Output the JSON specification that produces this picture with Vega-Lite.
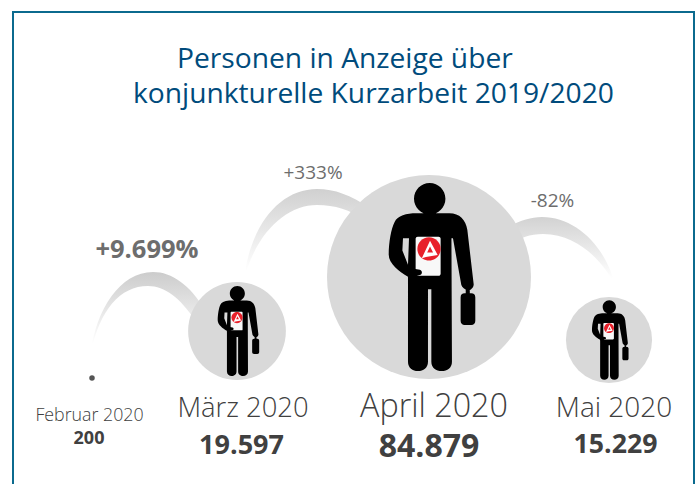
{
  "$schema": "https://vega.github.io/schema/vega-lite/v6.json",
  "width": 681,
  "height": 474,
  "padding": {"left": 13, "top": 12, "right": 1, "bottom": 0},
  "autosize": {"type": "none"},
  "background": "#ffffff",
  "view": {"stroke": "#0b6a8e", "strokeWidth": 2, "fill": "#ffffff"},
  "datasets": {
    "monate": [
      {"monat": "Februar 2020", "nr": 2, "personen": 200, "anzeige": "200", "veraenderung": null},
      {"monat": "März 2020", "nr": 3, "personen": 19597, "anzeige": "19.597", "veraenderung": "+9.699%"},
      {"monat": "April 2020", "nr": 4, "personen": 84879, "anzeige": "84.879", "veraenderung": "+333%"},
      {"monat": "Mai 2020", "nr": 5, "personen": 15229, "anzeige": "15.229", "veraenderung": "-82%"}
    ],
    "titel": [
      {"zeile": 1, "text": "Personen in Anzeige über"},
      {"zeile": 2, "text": "konjunkturelle Kurzarbeit 2019/2020"}
    ]
  },
  "data": {"name": "monate"},
  "resolve": {"scale": {"x": "independent", "y": "independent", "size": "independent"}},
  "layer": [
    {
      "encoding": {
        "x": {"field": "nr", "type": "quantitative", "axis": null, "scale": {"domain": [2, 3, 4, 5], "range": [79, 224, 416, 596], "nice": false}},
        "y": {"field": "personen", "type": "quantitative", "axis": null, "scale": {"domain": [200, 15229, 19597, 84879], "range": [366, 328, 319, 265], "nice": false}}
      },
      "layer": [
        {
          "transform": [{"filter": "datum.nr == 2"}],
          "mark": {"type": "point", "filled": true, "opacity": 1, "size": 40000,
            "shape": "M -0.01 -0.26 C 0.04 -0.68 0.28 -1.06 0.61 -1.06 C 0.80 -1.06 0.98 -0.93 1.13 -0.68 L 1.03 -0.58 C 0.88 -0.80 0.73 -0.92 0.56 -0.92 C 0.28 -0.92 0.08 -0.68 -0.01 -0.26 Z",
            "fill": {"gradient": "linear", "x1": 0, "y1": 0, "x2": 0, "y2": 1, "stops": [{"offset": 0, "color": "#cccccc"}, {"offset": 0.9, "color": "#ffffff"}, {"offset": 1, "color": "#ffffff"}]}}
        },
        {
          "transform": [{"filter": "datum.nr == 3"}],
          "mark": {"type": "point", "filled": true, "opacity": 1, "size": 40000,
            "shape": "M 0.07 -0.51 C 0.13 -1.06 0.43 -1.42 0.80 -1.42 C 0.98 -1.42 1.13 -1.36 1.33 -1.23 L 1.28 -1.11 C 1.13 -1.21 0.98 -1.26 0.80 -1.26 C 0.48 -1.26 0.18 -0.96 0.07 -0.51 Z",
            "fill": {"gradient": "linear", "x1": 0, "y1": 0, "x2": 0, "y2": 1, "stops": [{"offset": 0, "color": "#d0d0d0"}, {"offset": 0.9, "color": "#ffffff"}, {"offset": 1, "color": "#ffffff"}]}}
        },
        {
          "transform": [{"filter": "datum.nr == 5"}],
          "mark": {"type": "point", "filled": true, "opacity": 1, "size": 40000,
            "shape": "M -1.04 -1.12 C -0.89 -1.19 -0.79 -1.23 -0.67 -1.23 C -0.34 -1.23 -0.04 -0.95 0.06 -0.55 C -0.04 -0.75 -0.29 -1.06 -0.66 -1.06 C -0.79 -1.06 -0.89 -1.02 -0.99 -0.96 Z",
            "fill": {"gradient": "linear", "x1": 0, "y1": 0, "x2": 0, "y2": 1, "stops": [{"offset": 0, "color": "#d2d2d2"}, {"offset": 0.9, "color": "#ffffff"}, {"offset": 1, "color": "#ffffff"}]}}
        }
      ]
    },
    {
      "encoding": {
        "x": {"field": "nr", "type": "quantitative", "axis": null, "scale": {"domain": [2, 3, 4, 5], "range": [79, 224, 416, 596], "nice": false}},
        "y": {"field": "personen", "type": "quantitative", "axis": null, "scale": {"domain": [200, 15229, 19597, 84879], "range": [366, 328, 319, 265], "nice": false}},
        "size": {"field": "personen", "type": "quantitative", "legend": null, "scale": {"domain": [200, 84879], "range": [30, 41616]}}
      },
      "layer": [
        {
          "transform": [{"filter": "datum.nr != 2"}],
          "mark": {"type": "point", "shape": "circle", "filled": true, "opacity": 1, "color": "#d9d9d9"}
        },
        {
          "transform": [{"filter": "datum.nr == 2"}],
          "mark": {"type": "point", "shape": "circle", "filled": true, "opacity": 1, "color": "#555555"}
        },
        {
          "transform": [{"filter": "datum.nr != 2"}],
          "mark": {"type": "point", "filled": true, "opacity": 1, "color": "#000000",
            "shape": "M -0.124 -0.624 L 0.2 -0.624 C 0.30 -0.624 0.36 -0.56 0.376 -0.461 L 0.438 0.07 C 0.44 0.10 0.41 0.13 0.38 0.135 C 0.35 0.12 0.325 0.10 0.317 0.078 L 0.235 -0.379 L 0.22 -0.379 L 0.225 0.83 C 0.225 0.89 0.18 0.922 0.124 0.922 C 0.07 0.922 0.023 0.89 0.023 0.83 L 0.023 0.121 L -0.010 0.121 L -0.010 0.83 C -0.010 0.89 -0.056 0.922 -0.108 0.922 C -0.16 0.922 -0.206 0.89 -0.206 0.83 L -0.206 -0.003 C -0.29 -0.05 -0.395 -0.13 -0.395 -0.22 C -0.395 -0.34 -0.37 -0.48 -0.337 -0.54 C -0.31 -0.60 -0.22 -0.624 -0.124 -0.624 Z M -0.255 -0.379 L -0.261 -0.26 L -0.206 -0.12 L -0.196 -0.379 Z M 0.007 -0.922 C 0.092 -0.922 0.161 -0.853 0.161 -0.768 C 0.161 -0.683 0.092 -0.614 0.007 -0.614 C -0.078 -0.614 -0.147 -0.683 -0.147 -0.768 C -0.147 -0.853 -0.078 -0.922 0.007 -0.922 Z M 0.35 0.16 L 0.414 0.16 C 0.44 0.16 0.454 0.175 0.454 0.2 L 0.454 0.43 C 0.454 0.455 0.44 0.471 0.414 0.471 L 0.35 0.471 C 0.325 0.471 0.31 0.455 0.31 0.43 L 0.31 0.2 C 0.31 0.175 0.325 0.16 0.35 0.16 Z M 0.36 0.12 L 0.40 0.12 L 0.40 0.17 L 0.36 0.17 Z"}
        },
        {
          "transform": [{"filter": "datum.nr != 2"}],
          "mark": {"type": "point", "filled": true, "opacity": 1, "color": "#f8f8f8",
            "shape": "M -0.111 -0.395 L 0.094 -0.395 C 0.105 -0.395 0.114 -0.386 0.114 -0.375 L 0.114 -0.033 C 0.114 -0.022 0.105 -0.013 0.094 -0.013 L -0.111 -0.013 C -0.122 -0.013 -0.131 -0.022 -0.131 -0.033 L -0.131 -0.375 C -0.131 -0.386 -0.122 -0.395 -0.111 -0.395 Z"}
        },
        {
          "transform": [{"filter": "datum.nr != 2"}],
          "mark": {"type": "point", "filled": true, "opacity": 1, "color": "#000000",
            "shape": "M -0.206 -0.09 L -0.09 -0.07 C -0.06 -0.06 -0.065 -0.02 -0.09 -0.02 L -0.12 -0.01 L -0.206 0.01 Z"}
        },
        {
          "transform": [{"filter": "datum.nr != 2"}],
          "mark": {"type": "point", "filled": true, "opacity": 1, "color": "#e8202a",
            "shape": "M 0 -0.389 C 0.063 -0.389 0.114 -0.338 0.114 -0.275 C 0.114 -0.212 0.063 -0.161 0 -0.161 C -0.063 -0.161 -0.114 -0.212 -0.114 -0.275 C -0.114 -0.338 -0.063 -0.389 0 -0.389 Z"}
        },
        {
          "transform": [{"filter": "datum.nr != 2"}],
          "mark": {"type": "point", "filled": true, "opacity": 1, "color": "#ffffff",
            "shape": "M 0.01 -0.355 L 0.085 -0.215 L -0.03 -0.195 L -0.07 -0.185 Z M 0.01 -0.30 L -0.018 -0.24 L 0.04 -0.24 Z"}
        }
      ]
    },
    {
      "encoding": {
        "x": {"field": "nr", "type": "quantitative", "axis": null, "scale": {"domain": [2, 3, 4, 5], "range": [76.5, 230, 421, 601], "nice": false}},
        "y": {"field": "personen", "type": "quantitative", "axis": null, "scale": {"domain": [200, 15229, 19597, 84879], "range": [409, 405, 405, 405], "nice": false}},
        "size": {"field": "personen", "type": "quantitative", "legend": null, "scale": {"domain": [200, 15229, 19597, 84879], "range": [17.8, 28, 27.4, 32.3]}},
        "text": {"field": "monat", "type": "nominal"}
      },
      "mark": {"type": "text", "font": "Open Sans", "fontWeight": 300, "align": "center", "baseline": "alphabetic", "color": "#404040"}
    },
    {
      "encoding": {
        "x": {"field": "nr", "type": "quantitative", "axis": null, "scale": {"domain": [2, 3, 4, 5], "range": [76, 228.5, 416, 602.5], "nice": false}},
        "y": {"field": "personen", "type": "quantitative", "axis": null, "scale": {"domain": [200, 15229, 19597, 84879], "range": [432, 441, 442, 445], "nice": false}},
        "size": {"field": "personen", "type": "quantitative", "legend": null, "scale": {"domain": [200, 15229, 19597, 84879], "range": [18, 26.7, 27, 32]}},
        "text": {"field": "anzeige", "type": "nominal"}
      },
      "mark": {"type": "text", "font": "Open Sans", "fontWeight": 700, "align": "center", "baseline": "alphabetic", "color": "#404040"}
    },
    {
      "encoding": {
        "x": {"field": "nr", "type": "quantitative", "axis": null, "scale": {"domain": [3, 4, 5], "range": [134, 300, 539.5], "nice": false}},
        "y": {"field": "personen", "type": "quantitative", "axis": null, "scale": {"domain": [15229, 19597, 84879], "range": [195, 246, 167], "nice": false}},
        "text": {"field": "veraenderung", "type": "nominal"}
      },
      "layer": [
        {
          "transform": [{"filter": "datum.nr == 3"}],
          "mark": {"type": "text", "font": "Open Sans", "fontWeight": 700, "fontSize": 25.5, "align": "center", "baseline": "alphabetic", "color": "#6d6d6d"}
        },
        {
          "transform": [{"filter": "datum.nr >= 4"}],
          "mark": {"type": "text", "font": "Open Sans", "fontWeight": 400, "fontSize": 19, "align": "center", "baseline": "alphabetic", "color": "#6d6d6d"}
        }
      ]
    },
    {
      "data": {"name": "titel"},
      "encoding": {
        "x": {"field": "zeile", "type": "quantitative", "axis": null, "scale": {"domain": [1, 2], "range": [164, 120], "nice": false}},
        "y": {"field": "zeile", "type": "quantitative", "axis": null, "scale": {"domain": [1, 2], "range": [56, 91], "nice": false}},
        "text": {"field": "text", "type": "nominal"}
      },
      "mark": {"type": "text", "font": "Open Sans", "fontSize": 28.2, "align": "left", "baseline": "alphabetic", "color": "#004b7c"}
    }
  ]
}
